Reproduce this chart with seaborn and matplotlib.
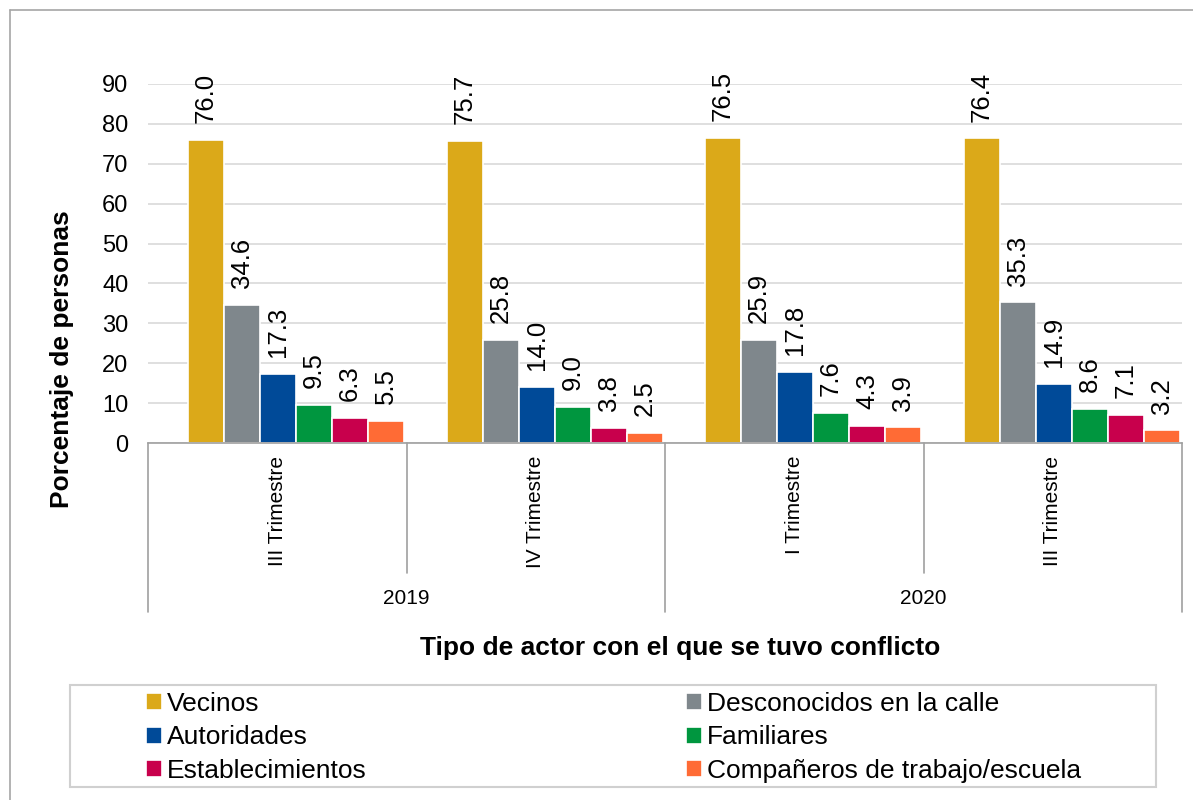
import numpy as np
import pandas as pd
import matplotlib
matplotlib.use('Agg')
import matplotlib.pyplot as plt
import seaborn as sns
from matplotlib.lines import Line2D
from matplotlib.patches import Rectangle

# datos
anios = ['2019', '2019', '2020', '2020']
trimestres = ['III Trimestre', 'IV Trimestre', 'I Trimestre', 'III Trimestre']
actores = ['Vecinos', 'Desconocidos en la calle', 'Autoridades', 'Familiares',
           'Establecimientos', 'Compañeros de trabajo/escuela']
vecinos = [76.0, 75.7, 76.5, 76.4]
desconocidos = [34.6, 25.8, 25.9, 35.3]
autoridades = [17.3, 14.0, 17.8, 14.9]
familiares = [9.5, 9.0, 7.6, 8.6]
establecimientos = [6.3, 3.8, 4.3, 7.1]
companeros = [5.5, 2.5, 3.9, 3.2]
colores = ['#DBA919', '#7F878C', '#004A98', '#00963F', '#C8004C', '#FF6B35']

series = [vecinos, desconocidos, autoridades, familiares, establecimientos, companeros]
periodos = [a + ' ' + t for a, t in zip(anios, trimestres)]
filas = []
for actor, vals in zip(actores, series):
    for p, v in zip(periodos, vals):
        filas.append({'periodo': p, 'actor': actor, 'valor': v})
df = pd.DataFrame(filas)

sns.set_style('white')
plt.rcParams['font.family'] = ['Liberation Sans', 'DejaVu Sans']
plt.rcParams['text.color'] = 'black'
plt.rcParams['xtick.color'] = 'black'
plt.rcParams['ytick.color'] = 'black'

W, H = 1193, 800
fig = plt.figure(figsize=(W / 100, H / 100), dpi=100)
ax = fig.add_axes([148 / W, 1 - 443 / H, (1182 - 148) / W, (443 - 84) / H])

sns.barplot(data=df, x='periodo', y='valor', hue='actor', order=periodos,
            hue_order=actores, palette=colores, saturation=1, width=0.8356, gap=0,
            edgecolor='white', linewidth=1.2, ax=ax, legend=True)

# etiquetas de valores
for c in ax.containers:
    ax.bar_label(c, fmt='%.1f', rotation=90, padding=12, fontsize=18.5, color='black')

shift = 0.0727
ax.set_xlim(-0.5 - shift, 3.5 - shift)
ax.set_ylim(0, 90)
ax.set_yticks(range(0, 91, 10))
ax.yaxis.grid(True, color='#d9d9d9', linewidth=1.2)
ax.set_axisbelow(True)
for s in ['left', 'right', 'top']:
    ax.spines[s].set_visible(False)
ax.spines['bottom'].set_color('#a0a0a0')
ax.spines['bottom'].set_linewidth(1.2)
ax.tick_params(axis='y', length=0, pad=14, labelsize=17)
ax.set_xticks(np.arange(4) - shift)
ax.set_xticklabels(trimestres, rotation=90, va='top', fontsize=15)
ax.tick_params(axis='x', length=0, pad=9)
ax.set_xlabel('')
ax.set_ylabel('')

# separadores de categorias
for k in range(5):
    x = k - 0.5 - shift
    y_fin = -(612 - 443) / 359 if k % 2 == 0 else -(573 - 443) / 359
    ax.plot([x, x], [0, y_fin], transform=ax.get_xaxis_transform(),
            color='#a0a0a0', linewidth=1.2, clip_on=False)
for i, anio in enumerate(['2019', '2020']):
    ax.text(2 * i + 0.5 - shift, -(599 - 443) / 359, anio,
            transform=ax.get_xaxis_transform(), ha='center', va='center', fontsize=15)

fig.text(62 / W, 1 - 359 / H, 'Porcentaje de personas', rotation=90,
         ha='center', va='center', fontsize=19, fontweight='bold')
fig.text(680 / W, 1 - 648 / H, 'Tipo de actor con el que se tuvo conflicto',
         ha='center', va='center', fontsize=19, fontweight='bold')

# leyenda
handles, labels = ax.get_legend_handles_labels()
ax.get_legend().remove()
orden = [0, 2, 4, 1, 3, 5]
fig.legend([handles[i] for i in orden], [labels[i] for i in orden], ncol=2,
           loc='upper left', bbox_to_anchor=(146 / W, 1 - 692 / H), frameon=False,
           fontsize=19, handlelength=0.6, handleheight=0.6, handletextpad=0.2,
           columnspacing=12.1, labelspacing=0.36, borderpad=0, borderaxespad=0)
fig.add_artist(Rectangle((70 / W, 1 - 787 / H), (1156 - 70) / W, (787 - 685) / H,
                         transform=fig.transFigure, fill=False,
                         edgecolor='#d0d0d0', linewidth=1.5))

# borde exterior
fig.add_artist(Line2D([9.5 / W, 9.5 / W], [0, 1 - 10 / H], transform=fig.transFigure,
                      color='#a6a6a6', linewidth=1.2))
fig.add_artist(Line2D([9.5 / W, 1], [1 - 10 / H, 1 - 10 / H], transform=fig.transFigure,
                      color='#a6a6a6', linewidth=1.2))

fig.savefig('out.png', dpi=100)
